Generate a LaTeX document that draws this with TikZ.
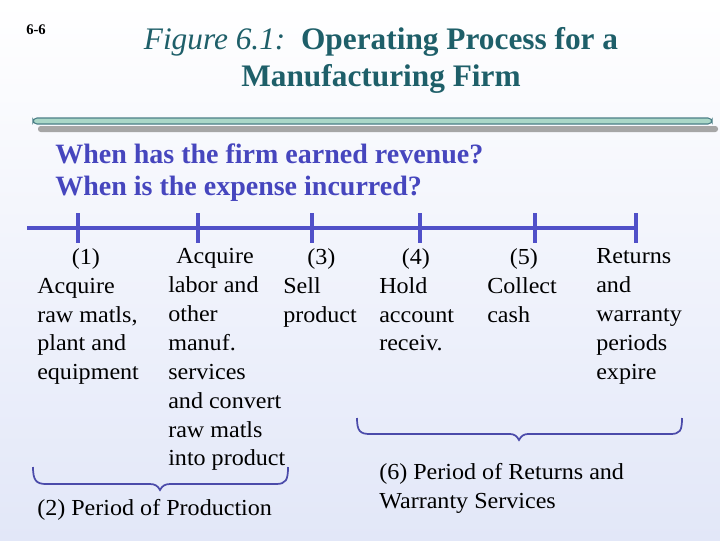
\documentclass[tikz,border=0pt]{standalone}
\usepackage{fontspec}
\setmainfont{Liberation Serif}
\newfontfamily\bodyf[FakeStretch=1.05]{Liberation Serif}
\begin{document}
\begin{tikzpicture}[x=0.75pt,y=-0.75pt,
  tl/.style={line width=3pt,draw=tlc},
  txt/.style={anchor=north west,inner sep=0,font=\bodyf\fontsize{17.2}{21.7}\selectfont,align=left},
  br/.style={draw=brc,line width=1.3pt}]
\definecolor{tlc}{RGB}{80,80,200}
\definecolor{brc}{RGB}{75,75,170}
\definecolor{ttl}{RGB}{30,95,105}
\definecolor{qc}{RGB}{70,70,190}
\shade[top color=white,bottom color={rgb,255:red,226;green,231;blue,248}] (0,0) rectangle (720,540);
\useasboundingbox (0,0) rectangle (720,540);
\node[anchor=base west,inner sep=0,font=\bfseries\fontsize{11}{13}\selectfont] (num) at (26,34) {6-6};
\node[anchor=base,inner sep=0,font=\bfseries\fontsize{23.5}{28}\selectfont,text=ttl] (t1) at (381,49) {\textit{\mdseries Figure 6.1:}\, Operating Process for a};
\node[anchor=base,inner sep=0,font=\bfseries\fontsize{23.5}{28}\selectfont,text=ttl] (t2) at (381,86) {Manufacturing Firm};
\fill[gray!70,rounded corners=2pt] (38,126) rectangle (718,132);
\draw[fill={rgb,255:red,170;green,215;blue,200},draw=ttl!80,rounded corners=3pt,line width=0.8pt] (33,118) rectangle (712,124);
\node[anchor=base west,inner sep=0,font=\bfseries\fontsize{21}{24}\selectfont,text=qc] (q1) at (55,163) {When has the firm earned revenue?};
\node[anchor=base west,inner sep=0,font=\bfseries\fontsize{21}{24}\selectfont,text=qc] (q2) at (55,195) {When is the expense incurred?};
\coordinate (ls) at (27,228); \coordinate (le) at (636,228);
\draw[tl] (ls) -- (le);
\foreach \x/\n in {78/a,198/b,312/c,420/d,535/e,636/f}{\draw[tl] (\x,213) -- (\x,243);}
\node[txt] (c1) at (37,248) {\hspace*{26pt}(1)\\Acquire\\raw matls,\\plant and\\equipment};
\node[txt] (c2) at (168,248) {\hspace*{6pt}Acquire\\labor and\\other\\manuf.\\services\\and convert\\raw matls\\into product};
\node[txt] (c3) at (283,248) {\hspace*{18pt}(3)\\Sell\\product};
\node[txt] (c4) at (379,248) {\hspace*{17pt}(4)\\Hold\\account\\receiv.};
\node[txt] (c5) at (487,248) {\hspace*{17pt}(5)\\Collect\\cash};
\node[txt] (c6) at (596,248) {Returns\\and\\warranty\\periods\\expire};
\draw[br] (33,467) .. controls (33,480) and (36,484) .. (46,484) -- (150,484) .. controls (155,484) and (158,486) .. (160,490) .. controls (162,486) and (165,484) .. (170,484) -- (276,484) .. controls (286,484) and (288,480) .. (288,467);
\draw[br] (357,418) .. controls (357,431) and (360,434) .. (370,434) -- (510,434) .. controls (514,434) and (517,436) .. (519,440) .. controls (521,436) and (524,434) .. (528,434) -- (670,434) .. controls (680,434) and (682,431) .. (682,418);
\node[txt] (p2) at (37,499) {(2) Period of Production};
\node[txt] (p6) at (379,463) {(6) Period of Returns and\\Warranty Services};
\end{tikzpicture}
\end{document}
